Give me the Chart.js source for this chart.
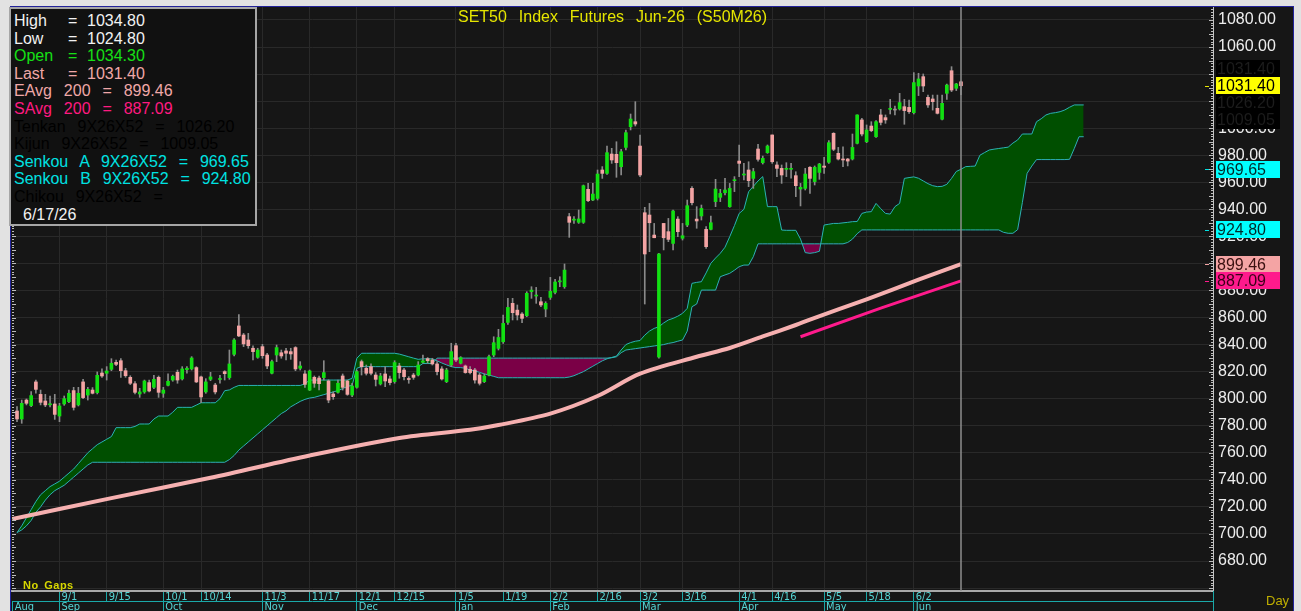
<!DOCTYPE html>
<html>
<head>
<meta charset="utf-8">
<title>SET50 Index Futures Jun-26 (S50M26)</title>
<script src="https://cdn.jsdelivr.net/npm/chart.js"></script>
<style>
  html, body { margin: 0; padding: 0; }
  body { width: 1301px; height: 611px; background: #e2e2e2; position: relative; overflow: hidden;
         font-family: 'Liberation Sans', Arial, sans-serif; }
  #frame { position: absolute; left: 10px; top: 6px; width: 1284px; height: 605px; background: #22229a; }
  #wrap { position: absolute; left: 11px; top: 7px; width: 1282px; height: 604px; background: #161616; }
  canvas { display: block; }
  .title { position: absolute; left: 12px; width: 1201px; top: 8px; line-height: 18px; text-align: center;
           color: #e6e600; font-size: 16px; white-space: pre; word-spacing: 1.5px; }
  .info { position: absolute; left: 9px; top: 7px; width: 248px; height: 219px; box-sizing: border-box;
          border: 2px solid #a6a6a6; background: #111111; padding: 3px 0 0 3px; font-size: 16px; line-height: 17.6px; }
  .info div { white-space: pre; word-spacing: 1.5px; height: 17.6px; }
  .info span { display: inline-block; }
  .c1 { width: 54px; } .c2 { width: 19px; }
  .nogaps { position: absolute; left: 23px; top: 579px; font-size: 11px; font-weight: bold; color: #d8d800; letter-spacing: 0.5px; word-spacing: 2px; }
  .day { position: absolute; left: 1266px; top: 593px; font-size: 13px; color: #bfae00; }
</style>
</head>
<body>
<div id="frame"></div>
<div id="wrap"><canvas id="c" width="1282" height="604"></canvas></div>

<div class="title">SET50  Index  Futures  Jun-26  (S50M26)</div>
<div class="info">
  <div style="color:#f2f2f2"><span class="c1">High</span><span class="c2">=</span>1034.80</div>
  <div style="color:#f2f2f2"><span class="c1">Low</span><span class="c2">=</span>1024.80</div>
  <div style="color:#16e016"><span class="c1">Open</span><span class="c2">=</span>1034.30</div>
  <div style="color:#f0a8a8"><span class="c1">Last</span><span class="c2">=</span>1031.40</div>
  <div style="color:#f0a8a8">EAvg  200  =  899.46</div>
  <div style="color:#ff1a80">SAvg  200  =  887.09</div>
  <div style="color:#000000">Tenkan  9X26X52  =  1026.20</div>
  <div style="color:#000000">Kijun  9X26X52  =  1009.05</div>
  <div style="color:#00e2e2">Senkou  A  9X26X52  =  969.65</div>
  <div style="color:#00e2e2">Senkou  B  9X26X52  =  924.80</div>
  <div style="color:#000000">Chikou  9X26X52  =</div>
  <div style="color:#f2f2f2; padding-left: 9px">6/17/26</div>
</div>
<div class="nogaps">No Gaps</div>
<div class="day">Day</div>

<script>
// daily bars, index 0 = mid Aug ... index 200 = 6/17/26
const opens = [
  790.9, 785.0, 799.0, 794.9, 812.4, 803.2, 798.3, 795.5, 796.1, 787.2,
  796.1, 797.8, 806.0, 795.4, 812.4, 802.7, 806.4, 804.5, 819.0, 818.8,
  821.7, 826.9, 828.1, 820.7, 815.8, 811.1, 803.5, 805.0, 811.9, 808.4,
  815.8, 804.0, 809.9, 813.8, 819.5, 814.6, 821.5, 822.0, 823.0, 816.1,
  805.0, 814.3, 810.1, 814.2, 820.0, 815.6, 832.8, 853.8, 847.1, 843.4,
  837.3, 830.6, 838.5, 832.3, 818.8, 832.3, 834.0, 835.3, 834.8, 837.8,
  822.5, 818.3, 806.4, 815.8, 815.3, 815.6, 813.1, 803.5, 804.7, 816.8,
  813.1, 802.7, 808.4, 827.4, 822.5, 823.7, 817.5, 810.9, 818.3, 814.6,
  812.6, 824.2, 821.2, 814.4, 817.5, 817.5, 826.9, 829.6, 828.6, 825.7,
  822.0, 812.6, 824.9, 839.2, 826.2, 824.2, 821.7, 821.2, 817.5, 812.6,
  817.5, 832.3, 837.2, 842.1, 856.4, 870.5, 865.5, 862.6, 861.4, 879.1,
  875.9, 871.7, 866.3, 874.9, 878.6, 886.4, 882.8, 934.6, 932.0, 930.4,
  930.4, 954.8, 946.9, 948.1, 969.1, 966.6, 980.9, 980.7, 971.5, 985.8,
  1001.1, 1004.8, 986.8, 937.5, 935.8, 921.0, 830.8, 929.6, 923.5, 914.8,
  932.8, 918.6, 928.4, 955.5, 932.8, 935.1, 925.2, 925.2, 945.7, 948.9,
  952.3, 942.0, 961.2, 975.7, 965.4, 969.1, 962.9, 984.6, 974.5, 981.9,
  995.0, 972.8, 970.3, 969.6, 969.6, 964.9, 955.0, 955.5, 971.1, 960.5,
  967.3, 972.0, 974.8, 996.2, 981.4, 977.2, 977.2, 977.2, 988.8, 1006.1,
  990.0, 1001.6, 993.7, 1009.8, 1007.8, 1013.9, 1013.4, 1014.2, 1015.9, 1015.4,
  1011.5, 1031.2, 1038.1, 1022.8, 1021.6, 1014.7, 1006.6, 1025.8, 1042.5, 1029.5,
  1034.3
];
const highs = [
  794.1, 799.0, 799.8, 805.2, 813.8, 806.4, 803.2, 802.0, 803.2, 796.6,
  802.0, 806.4, 808.4, 808.4, 814.3, 808.4, 808.2, 819.8, 822.0, 823.7,
  829.6, 828.6, 829.6, 822.5, 817.0, 812.6, 807.7, 813.8, 813.8, 817.3,
  816.8, 808.4, 818.3, 817.5, 821.2, 823.7, 823.7, 831.1, 823.7, 816.8,
  814.8, 819.5, 811.4, 817.3, 820.7, 836.0, 844.4, 862.2, 848.3, 848.3,
  839.0, 837.3, 840.2, 833.6, 828.6, 839.7, 836.0, 837.3, 837.3, 838.5,
  827.4, 820.7, 821.2, 816.8, 816.8, 828.1, 814.0, 805.2, 813.8, 818.3,
  813.8, 811.4, 821.2, 828.6, 824.9, 825.7, 819.3, 818.8, 823.7, 816.8,
  828.1, 826.2, 822.5, 816.3, 818.8, 827.4, 832.3, 830.4, 829.9, 827.4,
  823.7, 822.5, 841.0, 841.0, 831.1, 824.9, 823.7, 822.5, 818.8, 818.3,
  832.3, 845.8, 851.3, 861.9, 874.2, 874.2, 869.3, 863.6, 879.1, 882.8,
  882.3, 874.9, 871.7, 889.7, 888.2, 890.2, 899.6, 937.0, 934.6, 939.5,
  958.0, 959.3, 959.3, 969.1, 971.6, 986.8, 985.1, 990.0, 984.4, 998.7,
  1010.5, 1019.6, 995.0, 941.5, 944.4, 929.6, 907.5, 929.6, 933.3, 939.5,
  934.6, 929.6, 946.9, 956.8, 942.0, 943.2, 927.2, 935.1, 962.2, 954.8,
  963.0, 959.2, 964.2, 987.6, 974.0, 975.2, 970.3, 988.1, 979.4, 987.6,
  995.0, 975.2, 972.8, 974.5, 974.0, 967.8, 959.2, 970.3, 971.6, 972.1,
  974.0, 978.4, 990.8, 996.7, 985.8, 986.3, 977.7, 995.7, 1009.8, 1007.3,
  1002.4, 1004.8, 1005.6, 1013.9, 1009.8, 1021.3, 1016.4, 1025.8, 1021.3, 1020.8,
  1041.1, 1040.6, 1040.1, 1024.5, 1024.5, 1024.5, 1024.5, 1032.7, 1045.5, 1033.2,
  1034.8
];
const lows = [
  783.0, 781.8, 795.4, 794.1, 804.0, 795.4, 794.1, 794.0, 784.7, 783.0,
  795.1, 797.0, 791.6, 794.6, 800.0, 799.0, 803.5, 803.5, 815.8, 813.8,
  820.7, 824.4, 815.8, 815.8, 810.4, 803.5, 801.0, 804.0, 805.0, 807.4,
  801.0, 801.0, 809.4, 812.9, 811.4, 813.8, 818.8, 821.2, 811.9, 797.1,
  804.0, 813.3, 803.5, 811.4, 813.8, 814.3, 831.6, 845.9, 838.5, 837.3,
  828.6, 829.9, 829.9, 822.2, 818.3, 827.4, 829.9, 828.6, 829.1, 820.7,
  821.2, 808.4, 806.0, 808.4, 806.4, 813.8, 797.0, 799.5, 804.0, 806.4,
  802.5, 801.5, 807.7, 817.5, 817.5, 817.5, 809.4, 810.1, 808.9, 810.1,
  811.4, 815.1, 813.8, 811.4, 814.3, 816.8, 826.2, 826.2, 824.9, 817.5,
  813.8, 811.9, 823.7, 827.4, 825.7, 818.8, 818.3, 811.4, 810.1, 811.9,
  816.8, 831.0, 836.0, 840.9, 855.0, 858.2, 858.2, 856.2, 860.6, 874.2,
  870.5, 868.0, 860.6, 873.4, 877.4, 882.8, 881.6, 919.3, 929.6, 929.6,
  929.6, 945.7, 946.4, 946.9, 962.9, 965.9, 974.0, 963.7, 965.4, 983.9,
  998.7, 1001.6, 964.2, 870.0, 908.7, 919.0, 830.0, 910.0, 916.1, 910.0,
  919.8, 917.3, 927.2, 943.2, 926.0, 932.1, 911.2, 924.7, 942.0, 945.7,
  950.6, 941.5, 953.1, 964.2, 961.7, 956.8, 955.5, 975.7, 973.5, 981.4,
  974.0, 964.2, 959.2, 964.2, 963.0, 949.4, 942.5, 954.3, 951.8, 958.0,
  962.2, 966.6, 974.0, 983.4, 976.5, 971.6, 972.1, 976.5, 988.3, 994.2,
  989.3, 997.4, 993.2, 1002.4, 1003.6, 1010.5, 1009.8, 1013.4, 1002.9, 1011.0,
  1010.5, 1024.1, 1027.0, 1015.4, 1013.4, 1010.5, 1006.1, 1021.3, 1027.0, 1027.8,
  1024.8
];
const closes = [
  785.0, 796.6, 796.6, 802.3, 806.9, 797.3, 795.4, 795.9, 788.4, 794.6,
  800.0, 804.0, 793.6, 804.0, 800.8, 806.9, 804.0, 817.3, 816.8, 820.5,
  826.2, 825.4, 820.7, 817.0, 811.4, 804.7, 805.0, 813.1, 805.7, 814.3,
  804.7, 806.4, 812.9, 816.6, 813.8, 822.0, 822.5, 830.1, 812.4, 801.3,
  812.4, 816.1, 805.0, 814.4, 818.5, 825.7, 843.4, 846.4, 840.5, 839.2,
  834.8, 836.0, 831.8, 824.2, 827.4, 837.8, 831.6, 833.6, 833.1, 822.0,
  824.2, 810.6, 820.5, 811.4, 811.1, 819.3, 799.0, 801.5, 811.4, 808.4,
  803.2, 809.4, 820.0, 823.7, 818.8, 818.8, 814.3, 816.8, 813.1, 811.9,
  826.7, 819.3, 816.3, 814.2, 815.8, 824.9, 827.9, 828.1, 825.7, 820.0,
  814.6, 821.2, 834.8, 828.6, 830.4, 819.3, 819.3, 813.8, 811.4, 816.8,
  831.1, 841.4, 845.3, 855.7, 867.5, 863.6, 861.9, 859.4, 877.9, 880.3,
  876.1, 869.3, 870.5, 879.4, 886.3, 886.6, 895.1, 930.4, 932.2, 932.9,
  957.5, 946.4, 951.3, 966.1, 966.6, 981.9, 976.5, 974.5, 982.6, 996.7,
  1006.8, 1003.1, 965.4, 907.0, 930.1, 919.0, 907.0, 919.0, 917.8, 938.8,
  923.5, 920.5, 942.7, 944.9, 931.4, 940.7, 912.4, 930.1, 955.0, 951.8,
  954.3, 955.5, 961.4, 974.0, 965.5, 961.2, 967.9, 977.0, 977.7, 986.8,
  975.2, 970.3, 965.4, 970.3, 969.7, 957.5, 956.3, 966.1, 962.9, 971.1,
  973.5, 971.1, 989.3, 984.4, 977.2, 976.5, 975.7, 985.8, 1009.8, 995.7,
  998.7, 998.2, 1004.8, 1004.3, 1006.1, 1014.7, 1013.4, 1018.9, 1013.0, 1012.2,
  1033.7, 1036.4, 1031.2, 1017.2, 1019.6, 1011.0, 1018.4, 1031.9, 1028.2, 1032.7,
  1031.4
];

// Ichimoku cloud, index 0..226 (26 bars past the last bar)
const senkouA = [
  701, 706, 712, 718, 724, 729, 732, 735, 737, 739,
  742, 745, 748, 752, 756, 760, 763, 766, 768, 770,
  772, 778.6, 778.6, 778.6, 778.6, 779.5, 781.3, 781.3, 781.3, 785,
  787.2, 787.2, 787.2, 790, 793.6, 793.6, 793.6, 793.6, 795.3, 797,
  797, 797, 797, 800, 805.9, 806.5, 808.4, 809.8, 809.8, 809.8,
  809.8, 809.8, 809.8, 809.8, 809.8, 809.8, 809.8, 809.8, 809.8, 809.8,
  809.8, 811, 813.8, 813.8, 813.8, 813.8, 813.8, 813.8, 813.8, 813.8,
  813.8, 815, 829.9, 833.6, 833.6, 833.6, 833.6, 833.6, 833.6, 833.6,
  833.6, 833, 832, 831, 830, 829.1, 829.5, 829.5, 829.5, 828,
  826.4, 825, 823.7, 823, 823, 822.5, 821.2, 820.5, 819.5, 818.3,
  817.5, 816.5, 815.5, 815.5, 815.5, 815.5, 815.5, 815.5, 815.5, 815.5,
  815.5, 815.5, 815.5, 815.5, 815.5, 815.5, 815.5, 816, 817, 818.5,
  820, 822, 824, 826, 828, 829.5, 830.5, 831.5, 836, 840,
  841.5, 842.5, 843, 847, 850, 852, 853.2, 856, 858.2, 859.4,
  861, 863.1, 866.8, 885.3, 886, 886.5, 893, 900.1, 904, 907.5,
  912, 919.8, 928, 937, 940, 953, 957, 961, 964.2, 942,
  942, 942, 924.7, 924.5, 924.5, 924.5, 918, 908, 907.5, 908,
  909, 928.4, 929, 929.6, 929.6, 930, 930.4, 930.9, 931, 937,
  938, 938.3, 944.4, 940.5, 937, 936.5, 942, 944.4, 962.9, 963.5,
  964, 963, 961, 959, 957.5, 956.8, 957, 958.5, 962.9, 968,
  969.65, 971.6, 971.8, 972, 980, 982, 983.9, 984.5, 985, 985.5,
  986, 989, 991.3, 995.7, 995.7, 995.7, 1004.8, 1007, 1009.8, 1011,
  1011.5, 1012.2, 1013.5, 1015.5, 1017.2, 1017.2, 1017.2
];
const senkouB = [
  701, 703, 706, 710, 716, 720, 725, 729, 732, 734,
  736, 739, 742, 745, 748, 751, 753, 753, 753, 753,
  753, 753, 753, 753, 753, 753, 753, 753, 753, 753,
  753, 753, 753, 753, 753, 753, 753, 753, 753, 753,
  753, 753, 753, 753, 753, 755, 758, 762, 765, 768,
  771, 774, 777, 780, 783, 786, 789, 791, 794, 796,
  798, 799.5, 800.5, 801, 802, 803, 804, 805, 806, 807.5,
  809, 810, 822.5, 823.7, 823.7, 823.7, 823.7, 823.7, 823.7, 823.7,
  823.7, 823.7, 823.7, 823.7, 823.7, 823.7, 826, 826, 826, 830,
  830, 830, 830, 830, 830, 830, 830, 830, 830, 830,
  830, 830, 830, 830, 830, 830, 830, 830, 830, 830,
  830, 830, 830, 830, 830, 830, 830, 830, 830, 830,
  830, 830, 830, 830, 830, 830, 830.3, 831, 834, 836,
  836.5, 837, 837.5, 838, 838.5, 839, 839.5, 840, 840.9, 841.5,
  842.5, 843.4, 850, 868, 870, 880.3, 880.3, 880.3, 880.3, 890.2,
  891.5, 892.7, 895, 897.6, 898.8, 898.8, 905, 914.5, 914.5, 914.5,
  914.5, 914.5, 914.5, 914.5, 914.5, 914.5, 914.5, 914.5, 914.5, 914.5,
  914.5, 914.5, 914.5, 914.5, 914.5, 914.5, 915.5, 918, 922, 924.8,
  924.8, 924.8, 924.8, 924.8, 924.8, 924.8, 924.8, 924.8, 924.8, 924.8,
  924.8, 924.8, 924.8, 924.8, 924.8, 924.8, 924.8, 924.8, 924.8, 924.8,
  924.8, 924.8, 924.8, 924.8, 924.8, 924.8, 924.8, 924.8, 924.8, 923,
  922.3, 922.3, 925, 945, 966.6, 972, 976.8, 976.8, 976.8, 976.8,
  976.8, 976.8, 976.8, 977, 985, 993.7, 993.7
];

// moving averages read at a few bars
const emaIdx = [-1, 20, 41, 62, 81, 96, 102, 113, 123, 132, 144, 151, 158, 165, 168, 180, 191, 200];
const emaVal = [711, 726.5, 741.5, 758, 771, 777, 780.5, 789, 802, 818.5, 831, 837.5, 846, 854.5, 858.5, 873.5, 888, 899.46];
const smaIdx = [166, 183, 200];
const smaVal = [845.8, 867, 887.09];

// date axis
const weekTicks = [9, 19, 31, 39, 52, 62, 72, 80, 93, 103, 113, 123, 132, 141, 153, 160, 171, 180, 190];
const weekLabels = ['9/1', '9/15', '10/1', '10/14', '11/3', '11/17', '12/1', '12/15', '1/5', '1/19', '2/2', '2/16', '3/2', '3/16', '4/1', '4/16', '5/5', '5/18', '6/2'];
const monthTicks = [-0.9, 9, 31, 52, 72, 93, 113, 132, 153, 171, 190];
const monthLabels = ['Aug', 'Sep', 'Oct', 'Nov', 'Dec', 'Jan', 'Feb', 'Mar', 'Apr', 'May', 'Jun'];
const priceTicks = [660, 680, 700, 720, 740, 760, 780, 800, 820, 840, 860, 880, 900, 920, 940, 960, 980, 1000, 1020, 1040, 1060, 1080];

const tenkan = 1026.20;
const kijun = 1009.05;

const UP = '#12e012';
const DOWN = '#f4a4a4';
const FLAT = '#a09090';
const lastIndex = closes.length - 1;

const X_MIN = -1.06, X_MAX = 253.39;
const Y_MIN = 657.82, Y_MAX = 1089.61;

const bars = closes.map((c, i) => i);
const bodyColors = closes.map((c, i) => c > opens[i] ? UP : (c < opens[i] ? DOWN : FLAT));
const cloudIdx = senkouA.map((v, i) => i);

const bandFont = { family: "'Liberation Sans Narrow', 'DejaVu Sans Condensed', 'Liberation Sans', Arial", size: 11 };

const overlay = {
  id: 'overlay',
  afterDatasetsDraw(chart) {
    const { ctx, chartArea: a, scales: { x } } = chart;
    const px = x.getPixelForValue(lastIndex);
    ctx.save();
    ctx.strokeStyle = '#8e8e8e';
    ctx.lineWidth = 1.5;
    ctx.beginPath();
    ctx.moveTo(px, a.top);
    ctx.lineTo(px, a.bottom);
    ctx.stroke();
    ctx.restore();
  },
  afterDraw(chart) {
    const { ctx, chartArea: a, scales: { y } } = chart;
    ctx.save();
    // ruler marks on both edges
    ctx.strokeStyle = '#bdbdbd';
    ctx.lineWidth = 1;
    for (let v = 658; v <= 1088; v += 2) {
      const py = Math.round(y.getPixelForValue(v)) + 0.5;
      const len = v % 10 === 0 ? 4 : 2;
      ctx.beginPath();
      ctx.moveTo(a.right - len, py); ctx.lineTo(a.right, py);
      ctx.moveTo(a.left, py); ctx.lineTo(a.left + len, py);
      ctx.stroke();
    }
    // axis line continues through the date band
    ctx.strokeStyle = '#1aa8a8';
    ctx.beginPath();
    ctx.moveTo(a.right + 0.5, a.bottom); ctx.lineTo(a.right + 0.5, chart.height);
    ctx.stroke();

    // value boxes on the price axis
    const boxH = 17;
    const bx = a.right + 3;
    ctx.font = "16px 'Liberation Sans', Arial";
    ctx.textBaseline = 'middle';
    const box = (yc, text, bg, fg, mark) => {
      ctx.fillStyle = bg;
      ctx.fillRect(bx, Math.round(yc - boxH / 2), 64, boxH);
      ctx.fillStyle = fg;
      ctx.fillText(text, bx + 1, yc + 1);
      if (mark) {
        ctx.fillStyle = mark;
        ctx.fillRect(a.right - 8, Math.round(yc), 4, 1);
      }
    };
    const lastY = y.getPixelForValue(closes[lastIndex]);
    const tenY = lastY + boxH;
    const kijY = Math.max(y.getPixelForValue(kijun), tenY + boxH);
    ctx.fillStyle = '#000';
    ctx.fillRect(bx, Math.round(lastY - boxH * 1.5), 64, boxH * 4 + 1);
    box(lastY - boxH, closes[lastIndex].toFixed(2), '#000000', '#1c1c1c');
    box(tenY, tenkan.toFixed(2), '#000000', '#1c1c1c');
    box(kijY, kijun.toFixed(2), '#000000', '#1c1c1c');
    box(lastY, closes[lastIndex].toFixed(2), '#ffff00', '#000000', '#e6e600');
    box(y.getPixelForValue(senkouA[lastIndex]), senkouA[lastIndex].toFixed(2), '#00ffff', '#002a2a', '#00e0e0');
    box(y.getPixelForValue(senkouB[lastIndex]), senkouB[lastIndex].toFixed(2), '#00ffff', '#002a2a', '#00e0e0');
    box(y.getPixelForValue(emaVal[emaVal.length - 1]), emaVal[emaVal.length - 1].toFixed(2), '#f4a4a4', '#3a1010', '#f4a4a4');
    box(y.getPixelForValue(smaVal[smaVal.length - 1]), smaVal[smaVal.length - 1].toFixed(2), '#ff1a8c', '#3a0018', '#ff1a8c');
    ctx.restore();
  }
};

new Chart(document.getElementById('c'), {
  type: 'bar',
  data: {
    datasets: [
      {
        label: 'Senkou A',
        type: 'line',
        data: cloudIdx.map(i => ({ x: i, y: senkouA[i] })),
        borderColor: '#2ab3b3',
        borderWidth: 1,
        pointRadius: 0,
        tension: 0,
        fill: { target: '+1', above: '#004f00', below: '#7a0046' },
        order: 6
      },
      {
        label: 'Senkou B',
        type: 'line',
        data: cloudIdx.map(i => ({ x: i, y: senkouB[i] })),
        borderColor: '#2ab3b3',
        borderWidth: 1,
        pointRadius: 0,
        tension: 0,
        fill: false,
        order: 5
      },
      {
        label: 'EAvg 200',
        type: 'line',
        data: emaIdx.map((d, k) => ({ x: d, y: emaVal[k] })),
        borderColor: '#f6b0b0',
        borderWidth: 4,
        pointRadius: 0,
        tension: 0.3,
        fill: false,
        order: 4
      },
      {
        label: 'SAvg 200',
        type: 'line',
        data: smaIdx.map((d, k) => ({ x: d, y: smaVal[k] })),
        borderColor: '#ff1a8c',
        borderWidth: 3,
        pointRadius: 0,
        fill: false,
        order: 4
      },
      {
        label: 'Range',
        data: bars.map(i => ({ x: i, y: [lows[i], highs[i]] })),
        backgroundColor: '#8a8a8a',
        barThickness: 1,
        grouped: false,
        order: 2
      },
      {
        label: 'Body',
        data: bars.map(i => ({ x: i, y: [opens[i], closes[i]] })),
        backgroundColor: bodyColors,
        barThickness: 3,
        minBarLength: 1,
        grouped: false,
        order: 1
      }
    ]
  },
  options: {
    responsive: false,
    animation: false,
    events: [],
    layout: { padding: { left: 1, top: 0, right: 0, bottom: 0 } },
    plugins: { legend: { display: false }, tooltip: { enabled: false } },
    scales: {
      x: {
        type: 'linear', position: 'bottom', min: X_MIN, max: X_MAX, offset: false, weight: 0,
        afterBuildTicks: s => { s.ticks = weekTicks.map(v => ({ value: v })); },
        afterFit: s => { s.height = 10; s.paddingLeft = 0; s.paddingRight = 0; },
        grid: { color: '#292929', offset: false, drawTicks: true, tickLength: 10, tickColor: '#1aa8a8' },
        border: { color: '#a8a8a8', width: 2 },
        ticks: {
          autoSkip: false, maxRotation: 0, minRotation: 0, align: 'start', padding: -10, labelOffset: 2,
          color: '#55d4d4', font: bandFont,
          callback: (v, i) => weekLabels[i]
        }
      },
      xm: {
        type: 'linear', position: 'bottom', min: X_MIN, max: X_MAX, offset: false, weight: 1,
        afterBuildTicks: s => { s.ticks = monthTicks.map(v => ({ value: v })); },
        afterFit: s => { s.height = 10; s.paddingLeft = 0; s.paddingRight = 0; },
        grid: { drawOnChartArea: false, offset: false, drawTicks: true, tickLength: 10, tickColor: '#1aa8a8' },
        border: { color: '#1aa8a8', width: 1 },
        ticks: {
          autoSkip: false, maxRotation: 0, minRotation: 0, align: 'start', padding: -10, labelOffset: 2,
          color: '#55d4d4', font: bandFont,
          callback: (v, i) => monthLabels[i]
        }
      },
      y: {
        type: 'linear', position: 'right', min: Y_MIN, max: Y_MAX,
        afterBuildTicks: s => { s.ticks = priceTicks.map(v => ({ value: v })); },
        afterFit: s => { s.width = 80; s.paddingTop = 0; s.paddingBottom = 0; },
        grid: { color: '#292929', drawTicks: false },
        border: { color: '#c4c4c4', width: 1 },
        ticks: {
          padding: 5, color: '#ededed',
          font: { family: "'Liberation Sans', Arial", size: 16 },
          callback: v => v < 680 ? '' : v.toFixed(2)
        }
      }
    }
  },
  plugins: [overlay]
});
</script>
</body>
</html>
